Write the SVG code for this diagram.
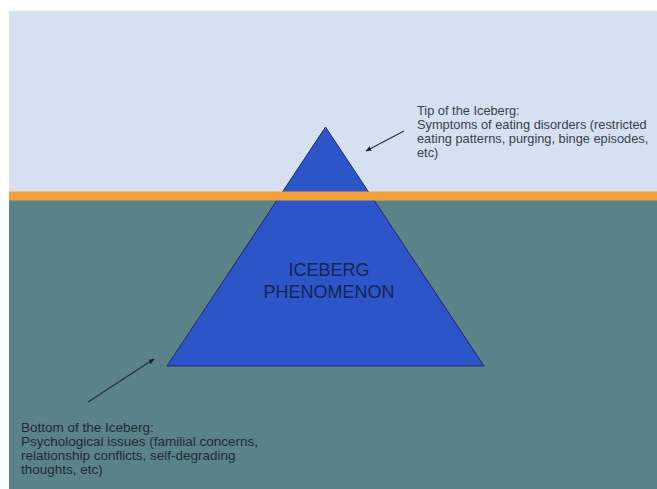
<svg xmlns="http://www.w3.org/2000/svg" width="657" height="489" viewBox="0 0 657 489">
<defs>
<style>
.note{font-family:"Liberation Sans",Arial,sans-serif;font-size:12.8px;}
.top{fill:#3a3f48;}
.bot{fill:#1f2d33;font-size:13.5px;}
.title{font-family:"Liberation Sans",Arial,sans-serif;font-size:18px;fill:#17254f;text-anchor:middle;}
.conn{stroke:#2a2f35;stroke-width:1.2;fill:none;marker-end:url(#ah);}
</style>
<marker id="ah" viewBox="0 0 10 10" refX="9" refY="5" markerWidth="6" markerHeight="6" orient="auto" markerUnits="userSpaceOnUse">
<path d="M0,1 L10,5 L0,9 z" fill="#1c2026"/>
</marker>
</defs>
<rect x="0" y="0" width="657" height="489" fill="#ffffff"/>
<g id="sky"><rect x="9" y="11" width="648" height="181" fill="#d5e1f1"/></g>
<g id="sea"><rect x="9" y="192" width="648" height="297" fill="#5a8289"/></g>
<g id="iceberg">
<polygon points="325.5,127 484,366 167,366" fill="#2b55c8" stroke="#1c2c6a" stroke-width="1"/>
<text class="title" x="329" y="276">ICEBERG</text>
<text class="title" x="329" y="298">PHENOMENON</text>
</g>
<g id="waterline"><rect x="9" y="191.5" width="648" height="9" fill="#f2a13a"/></g>
<g id="tip-label">
<text class="note top" x="417" y="115">Tip of the Iceberg:</text>
<text class="note top" x="417" y="129">Symptoms of eating disorders (restricted</text>
<text class="note top" x="417" y="143">eating patterns, purging, binge episodes,</text>
<text class="note top" x="417" y="157">etc)</text>
</g>
<g id="bottom-label">
<text class="note bot" x="21" y="431.5">Bottom of the Iceberg:</text>
<text class="note bot" x="21" y="445.7">Psychological issues (familial concerns,</text>
<text class="note bot" x="21" y="459.9">relationship conflicts, self-degrading</text>
<text class="note bot" x="21" y="474.1">thoughts, etc)</text>
</g>
<g id="connectors">
<line class="conn" x1="404" y1="131" x2="366" y2="151"/>
<line class="conn" x1="88" y1="402" x2="154" y2="359"/>
</g>
</svg>
